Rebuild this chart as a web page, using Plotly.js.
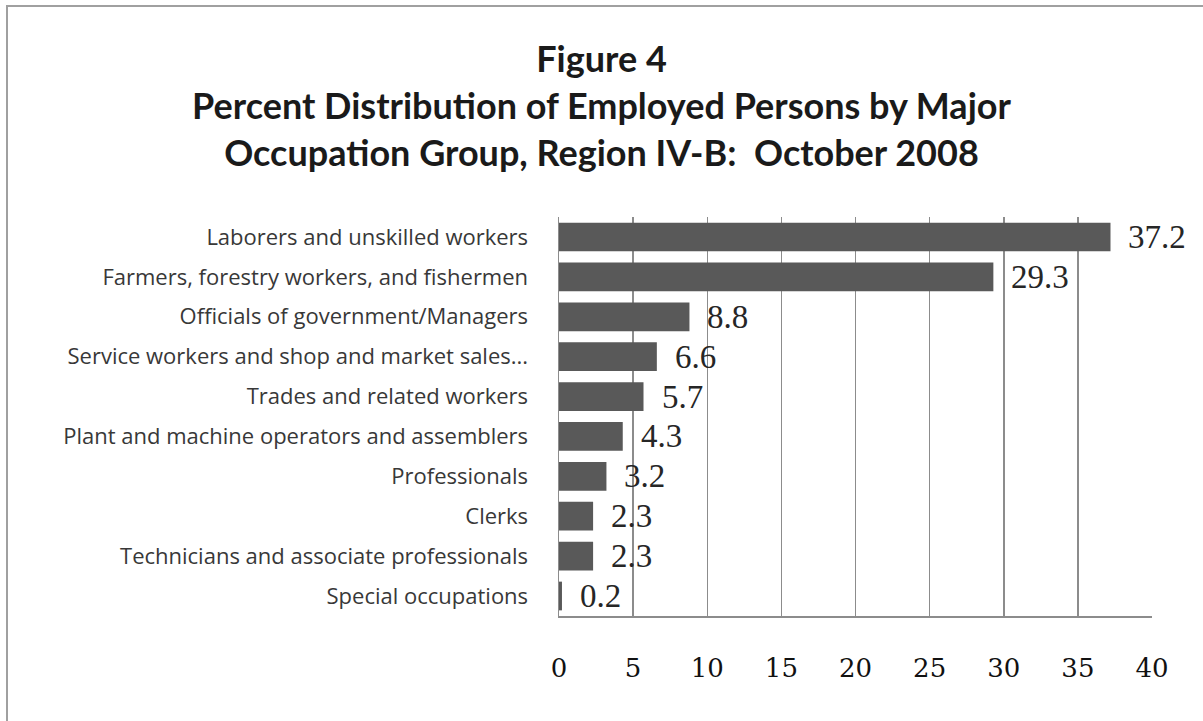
<!DOCTYPE html>
<html>
<head>
<meta charset="utf-8">
<script src="https://cdn.plot.ly/plotly-3.0.1.min.js"></script>
<style>
html,body{margin:0;padding:0;background:#fff;}
#wrap{position:absolute;left:0;top:0;width:1203px;height:721px;}
#frame{position:absolute;left:6px;top:5px;width:1197px;height:716px;border-top:2px solid #a0a0a0;border-left:2px solid #a0a0a0;pointer-events:none;}
#chart{position:absolute;left:0;top:0;width:1203px;height:721px;}
</style>
</head>
<body>
<div id="wrap">
<div id="chart"></div>
<div id="frame"></div>
</div>
<script>
const categories = [
  "Laborers and unskilled workers",
  "Farmers, forestry workers, and fishermen",
  "Officials of government/Managers",
  "Service workers and shop and market sales...",
  "Trades and related workers",
  "Plant and machine operators and assemblers",
  "Professionals",
  "Clerks",
  "Technicians and associate professionals",
  "Special occupations"
];
const values = [37.2, 29.3, 8.8, 6.6, 5.7, 4.3, 3.2, 2.3, 2.3, 0.2];
const valueLabels = ["37.2", "29.3", "8.8", "6.6", "5.7", "4.3", "3.2", "2.3", "2.3", "0.2"];
const xTicks = [0, 5, 10, 15, 20, 25, 30, 35, 40];
const titleLines = [
  "Figure 4",
  "Percent Distribution of Employed Persons by Major",
  "Occupation Group, Region IV-B:  October 2008"
];

const trace = {
  type: "bar",
  orientation: "h",
  x: values,
  y: categories,
  marker: {color: "#595959", line: {width: 0}},
  hoverinfo: "none"
};

const annotations = categories.map((c, i) => ({
  x: values[i], y: c, xref: "x", yref: "y",
  text: valueLabels[i], showarrow: false,
  xanchor: "left", yanchor: "middle", xshift: 16, yshift: 0,
  font: {family: "Liberation Serif, DejaVu Serif, serif", size: 33, color: "#262626"}
}));

const layout = {
  width: 1203, height: 721,
  paper_bgcolor: "rgba(0,0,0,0)",
  plot_bgcolor: "#fff",
  margin: {l: 559, r: 51, t: 217, b: 105, pad: 0},
  title: {
    text: titleLines.join("<br>"),
    font: {family: "Lato, Open Sans, sans-serif", size: 36, color: "#1a1a1a", weight: "bold"},
    x: 0.5, xref: "container", xanchor: "center",
    y: 0.90, yref: "container", yanchor: "top"
  },
  bargap: 0.28,
  showlegend: false,
  xaxis: {
    range: [0, 40],
    tickvals: xTicks,
    ticktext: xTicks.map(String),
    showgrid: true, gridcolor: "#8c8c8c", gridwidth: 1.5,
    zeroline: false,
    showline: true, linecolor: "#8c8c8c", linewidth: 1.5,
    ticks: "", ticklabelstandoff: 28,
    tickfont: {family: "DejaVu Serif, Liberation Serif, serif", size: 26, color: "#111111"},
    fixedrange: true
  },
  yaxis: {
    autorange: "reversed",
    type: "category",
    showgrid: false, zeroline: false,
    showline: true, linecolor: "#8c8c8c", linewidth: 1.5,
    ticks: "", ticklabelstandoff: 25,
    tickfont: {family: "Open Sans, Lato, sans-serif", size: 22, color: "#383838"},
    fixedrange: true
  },
  annotations: annotations
};

Plotly.newPlot("chart", [trace], layout, {displayModeBar: false, staticPlot: true});
</script>
</body>
</html>
